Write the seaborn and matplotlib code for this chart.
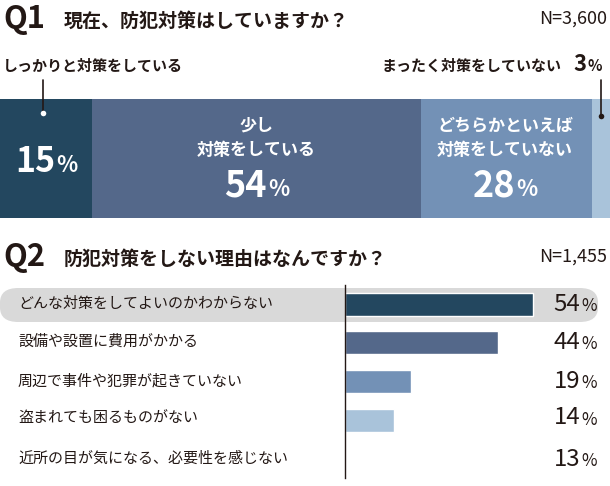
import matplotlib
matplotlib.use("Agg")
import matplotlib.pyplot as plt
import seaborn as sns
import pandas as pd
import numpy as np
from matplotlib.patches import FancyBboxPatch

sns.set_theme(style="white")
plt.rcParams['font.family'] = ['Noto Sans CJK JP', 'DejaVu Sans']

q1_labels = ["しっかりと対策をしている", "少し対策をしている", "どちらかといえば対策をしていない", "まったく対策をしていない"]
q1_values = [15, 54, 28, 3]
q1_colors = ["#23475f", "#54688a", "#7391b6", "#a9c3da"]

q2_labels = ["どんな対策をしてよいのかわからない", "設備や設置に費用がかかる", "周辺で事件や犯罪が起きていない",
             "盗まれても困るものがない", "近所の目が気になる、必要性を感じない"]
q2_values = [54, 44, 19, 14, 13]
q2_colors = ["#23475f", "#54688a", "#7391b6", "#a9c3da", "#ffffff"]

W, H = 610, 486
fig = plt.figure(figsize=(W/100, H/100), dpi=100)
fig.patch.set_facecolor("white")

def pt(px):
    return px * 0.72

def ftext(x, y, s, size, ha="left", va="center", color="#231815", weight="bold", **kw):
    fig.text(x / W, 1 - y / H, s, fontsize=pt(size), ha=ha, va=va, color=color, fontweight=weight, **kw)

def pct(x, y, num, size, psize, color="#231815", weight="normal"):
    ftext(x, y, num, size, ha="right", color=color, weight=weight)
    ftext(x + 1, y + size * 0.1, "%", psize, ha="left", color=color, weight=weight)

# Q1 stacked bar
ax1 = fig.add_axes([0, 1 - 218 / H, 1, 119 / H])
left = 0
for v, c in zip(q1_values, q1_colors):
    ax1.barh([0], [v], left=left, color=c, height=1.0, edgecolor="none")
    left += v
ax1.set_xlim(0, sum(q1_values))
ax1.set_ylim(-0.5, 0.5)
ax1.axis("off")

# highlight pill for Q2 row 1
pill = FancyBboxPatch((0 / W, 1 - 322 / H), 598 / W, 34 / H,
                      boxstyle="round,pad=0,rounding_size=0.03", transform=fig.transFigure,
                      facecolor="#d9d9d9", edgecolor="none", zorder=-5)
fig.patches.append(pill)

# Q2 bars
ax2 = fig.add_axes([345 / W, 1 - 478 / H, 265 / W, 193 / H])
ax2.set_zorder(2)
ax2.patch.set_alpha(0)
df2 = pd.DataFrame({"label": q2_labels, "value": q2_values})
sns.barplot(data=df2, y="label", x="value", hue="label", palette=q2_colors, legend=False,
            orient="h", width=0.6, ax=ax2, saturation=1)
ax2.set_xlim(0, 265 / 3.48)
ax2.set_ylim(4.5, -0.5)
for s in ["top", "right", "bottom"]:
    ax2.spines[s].set_visible(False)
ax2.spines["left"].set_color("#231815")
ax2.spines["left"].set_linewidth(1.0)
ax2.set_xticks([]); ax2.set_yticks([])
ax2.set_xlabel(""); ax2.set_ylabel("")

row_y = [304, 342, 381, 418, 459]
for lab, v, y in zip(q2_labels, q2_values, row_y):
    ftext(18, y, lab, 15, weight="normal")
    pct(580, y, f"{v}", 24, 17)

# Titles
ftext(3, 19, "Q1", 31, weight="bold")
ftext(64, 21, "現在、防犯対策はしていますか？", 19)
ftext(607, 19, "N=3,600", 18, ha="right", weight="normal")
ftext(3, 257, "Q2", 31, weight="bold")
ftext(64, 259, "防犯対策をしない理由はなんですか？", 19)
ftext(607, 257, "N=1,455", 18, ha="right", weight="normal")

# Q1 labels
ftext(3, 66, "しっかりと対策をしている", 15)
ftext(562, 66, "まったく対策をしていない", 15, ha="right")
pct(586, 64, "3", 22, 15, weight="bold")
for x, y2 in [(43, 113), (601, 116)]:
    fig.add_artist(plt.Line2D([x / W, x / W], [1 - 80 / H, 1 - y2 / H], color="#231815", lw=1.2))
    fig.add_artist(plt.Line2D([x / W], [1 - y2 / H], marker="o", ms=4,
                              color="#231815" if x > 300 else "white", mec="none"))

# in-bar texts
pct(55, 162, "15", 34, 22, color="white", weight="bold")
ftext(256, 126, "少し", 17, ha="center", color="white")
ftext(256, 150, "対策をしている", 17, ha="center", color="white")
pct(267, 186, "54", 36, 22, color="white", weight="bold")
ftext(505, 126, "どちらかといえば", 17, ha="center", color="white")
ftext(505, 150, "対策をしていない", 17, ha="center", color="white")
pct(515, 186, "28", 36, 22, color="white", weight="bold")

fig.savefig("out.png", dpi=100, facecolor="white")
